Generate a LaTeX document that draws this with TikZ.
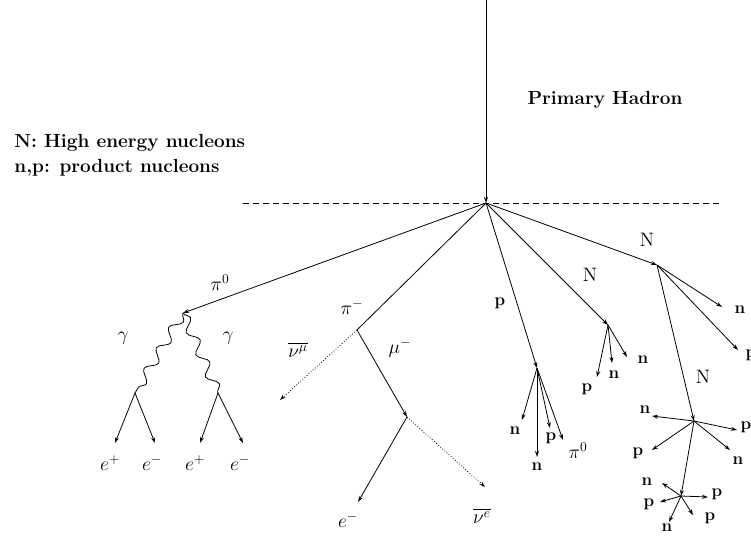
\documentclass[tikz,border=0pt]{standalone}
\usetikzlibrary{arrows.meta,decorations.pathmorphing}
\newcommand{\partlab}[1]{\scalebox{1.35}{$#1$}}
\begin{document}
\begin{tikzpicture}[x=1pt,y=-1pt, line width=0.8pt,
  track/.style={-{Stealth[open,length=6pt,width=4pt]}},
  nutrack/.style={dotted, -{Stealth[open,length=6pt,width=4pt]}},
  lab/.style={font=\fontsize{17}{19}\selectfont\bfseries, inner sep=0pt},
  mlab/.style={font=\fontsize{14}{16}\selectfont, inner sep=0pt},
  txt/.style={font=\fontsize{19}{22}\selectfont\bfseries, inner sep=0pt},
  photon/.style={decorate, decoration={snake, amplitude=5pt, segment length=24pt}}]
\useasboundingbox (0,0) rectangle (751,536);
% header texts
\node[txt] (ph) at (605,100) {Primary Hadron};
\node[txt, anchor=west] (t1) at (14,143) {N: High energy nucleons};
\node[txt, anchor=west] (t2) at (14,168) {n,p: product nucleons};
% primary
\coordinate (top) at (486,0);
\coordinate (V) at (486,203);
\coordinate (dl) at (243,203);
\coordinate (dr) at (721,203);
\draw[dash pattern=on 6pt off 4pt] (dl) -- (dr);
\draw[track] (top) -- (V);
% pi0 branch
\coordinate (G) at (183,313);
\coordinate (G1) at (135,393);
\coordinate (G2) at (218,393);
\draw[track] (V) -- (G);
\node[mlab] (lpi0) at (220,283) {\partlab{\pi^0}};
\draw[photon] (G) -- (G1);
\draw[photon] (G) -- (G2);
\node[mlab] (lg1) at (123,338) {\partlab{\gamma}};
\node[mlab] (lg2) at (228,338) {\partlab{\gamma}};
\coordinate (e1) at (115,443);
\coordinate (e2) at (155,443);
\coordinate (e3) at (200,443);
\coordinate (e4) at (243,443);
\draw[track] (G1) -- (e1);
\draw[track] (G1) -- (e2);
\draw[track] (G2) -- (e3);
\draw[track] (G2) -- (e4);
\node[mlab] (le1) at (110,463) {\partlab{e^+}};
\node[mlab] (le2) at (152,463) {\partlab{e^-}};
\node[mlab] (le3) at (195,463) {\partlab{e^+}};
\node[mlab] (le4) at (240,463) {\partlab{e^-}};
% pi- branch
\coordinate (PM) at (357,330);
\coordinate (M) at (407,417);
\coordinate (num) at (280,400);
\coordinate (em) at (358,502);
\coordinate (nue) at (485,487);
\draw (V) -- (PM);
\node[mlab] (lpim) at (352,307) {\partlab{\pi^-}};
\draw[nutrack] (PM) -- (num);
\node[mlab] (lnum) at (298,350) {\partlab{\overline{\nu^\mu}}};
\draw[track] (PM) -- (M);
\node[mlab] (lmu) at (400,348) {\partlab{\mu^-}};
\draw[track] (M) -- (em);
\node[mlab] (lem) at (348,520) {\partlab{e^-}};
\draw[nutrack] (M) -- (nue);
\node[mlab] (lnue) at (482,516) {\partlab{\overline{\nu^e}}};
% p branch
\coordinate (P1) at (537,368);
\draw[track] (V) -- (P1);
\node[lab] (lp) at (500,303) {p};
\coordinate (p1a) at (522,420);
\coordinate (p1b) at (537,457);
\coordinate (p1c) at (550,428);
\coordinate (p1d) at (563,440);
\draw[track] (P1) -- (p1a);
\draw[track] (P1) -- (p1b);
\draw[track] (P1) -- (p1c);
\draw[track] (P1) -- (p1d);
\node[lab] (lp1a) at (515,431) {n};
\node[lab] (lp1b) at (537,467) {n};
\node[lab] (lp1c) at (551,438) {p};
\node[mlab] (lp1d) at (578,451) {\partlab{\pi^0}};
% middle N
\coordinate (N1) at (608,325);
\draw[track] (V) -- (N1);
\node[mlab] (lN1) at (590,275) {\partlab{\mathrm{N}}};
\coordinate (n1a) at (597,377);
\coordinate (n1b) at (612,363);
\coordinate (n1c) at (627,357);
\draw[track] (N1) -- (n1a);
\draw[track] (N1) -- (n1b);
\draw[track] (N1) -- (n1c);
\node[lab] (ln1a) at (587,389) {p};
\node[lab] (ln1b) at (614,375) {n};
\node[lab] (ln1c) at (643,360) {n};
% right N
\coordinate (N2a) at (657,265);
\draw[track] (V) -- (N2a);
\node[mlab] (lN2a) at (647,240) {\partlab{\mathrm{N}}};
\coordinate (n2a) at (722,307);
\coordinate (n2b) at (738,350);
\draw[track] (N2a) -- (n2a);
\draw[track] (N2a) -- (n2b);
\node[lab] (ln2a) at (740,310) {n};
\node[lab] (ln2b) at (751,355) {p};
\coordinate (N2) at (694,421);
\draw[track] (N2a) -- (N2);
\node[mlab] (lN2) at (703,377) {\partlab{\mathrm{N}}};
\coordinate (q1) at (652,416);
\coordinate (q2) at (737,430);
\coordinate (q3) at (652,450);
\coordinate (q4) at (730,450);
\draw[track] (N2) -- (q1);
\draw[track] (N2) -- (q2);
\draw[track] (N2) -- (q3);
\draw[track] (N2) -- (q4);
\node[lab] (lq1) at (645,410) {n};
\node[lab] (lq2) at (746,427) {p};
\node[lab] (lq3) at (638,453) {p};
\node[lab] (lq4) at (738,461) {n};
\coordinate (N3) at (681,496);
\draw[track] (N2) -- (N3);
\coordinate (r1) at (662,483);
\coordinate (r2) at (660,502);
\coordinate (r3) at (708,497);
\coordinate (r4) at (693,515);
\coordinate (r5) at (669,522);
\draw[track] (N3) -- (r1);
\draw[track] (N3) -- (r2);
\draw[track] (N3) -- (r3);
\draw[track] (N3) -- (r4);
\draw[track] (N3) -- (r5);
\node[lab] (lr1) at (647,482) {n};
\node[lab] (lr2) at (649,504) {p};
\node[lab] (lr3) at (717,494) {p};
\node[lab] (lr4) at (710,518) {p};
\node[lab] (lr5) at (667,528) {n};
\end{tikzpicture}
\end{document}
